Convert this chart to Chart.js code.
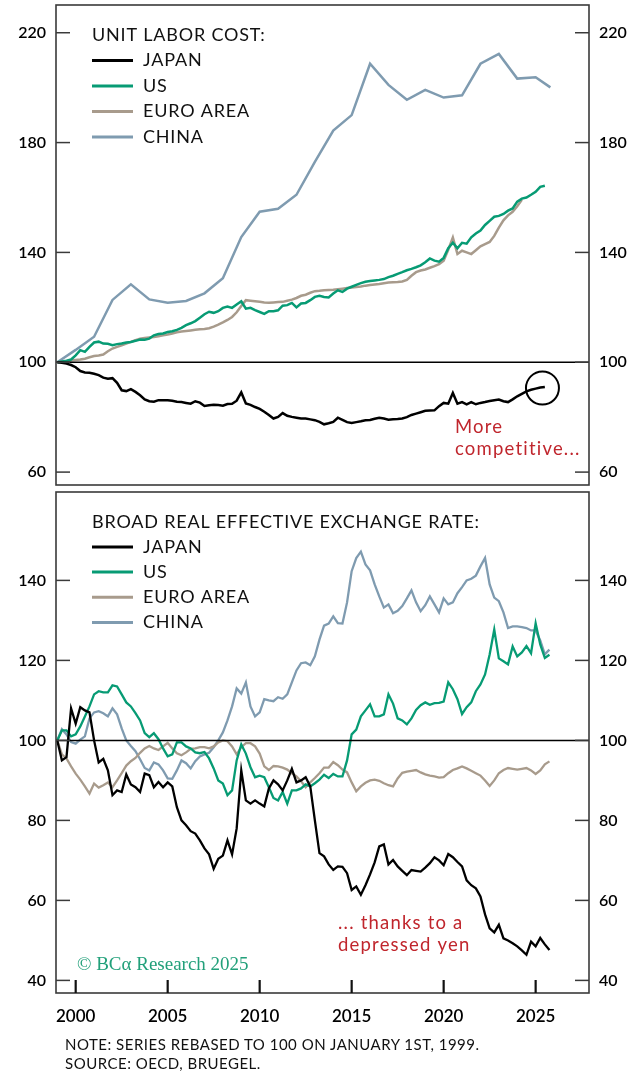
<!DOCTYPE html>
<html>
<head>
<meta charset="utf-8">
<script src="https://cdn.jsdelivr.net/npm/chart.js@4.4.1/dist/chart.umd.min.js"></script>
<style>
  body { margin: 0; background: #fff; width: 644px; height: 1072px; position: relative; overflow: hidden; font-family: Lato, "Open Sans", sans-serif; }
  canvas { position: absolute; left: 0; }
  #ulcChart { top: 0; }
  #reerChart { top: 488px; }
  .foot { position: absolute; left: 65px; font-size: 15px; line-height: 18px; color: #111; letter-spacing: 0.5px; }
</style>
</head>
<body>
<canvas id="ulcChart" width="644" height="490"></canvas>
<canvas id="reerChart" width="644" height="540"></canvas>
<div class="foot" style="top:1035px">NOTE: SERIES REBASED TO 100 ON JANUARY 1ST, 1999.</div>
<div class="foot" style="top:1054px">SOURCE: OECD, BRUEGEL.</div>
<script>
// quarterly, starting Q1 1999
const ulcJapan = [
  100, 99.8, 99.5, 99,
  98.2, 96.8, 96.3, 96.2,
  95.8, 95.3, 94.4, 94,
  94.2, 92.5, 89.8, 89.5,
  90.2, 89.2, 88, 86.5,
  85.8, 85.6, 86.2, 86.2,
  86.2, 86, 85.6, 85.5,
  85.2, 84.9, 85.8, 85.3,
  84.1, 84.3, 84.5, 84.4,
  84.2, 84.8, 84.9, 86,
  89, 85, 84.5, 83.7,
  83, 82, 80.8, 79.5,
  80.1, 81.5, 80.5, 80.1,
  79.8, 79.5, 79.5, 79.2,
  78.9, 78.3, 77.4, 77.8,
  78.3, 79.8, 79, 78.2,
  77.9, 78.2, 78.5, 78.9,
  79, 79.4, 79.8, 79.5,
  79.1, 79.2, 79.3, 79.5,
  80, 80.8, 81.3, 81.8,
  82.3, 82.4, 82.5, 84,
  85.2, 84.9, 88.8, 84.9,
  85.5, 84.7, 85.5, 84.7,
  85.2, 85.5, 85.9, 86.2,
  86.4, 85.8, 85.5, 86.5,
  87.6, 88.5, 89.4, 90,
  90.4, 90.8, 91
];
const ulcUS = [
  100, 100.3, 100.6, 101,
  102.5, 104.4, 103.8, 105.6,
  107.2, 107.5, 106.8, 106.7,
  106.2, 106.6, 106.8, 107.2,
  107.4, 107.8, 108.3, 108.2,
  108.6, 109.8, 110.3, 110.5,
  111, 111.3, 111.8, 112.5,
  113.5, 114.2, 115, 116.2,
  117.5, 118.4, 118, 118.6,
  119.8, 120.3, 119.8, 121,
  122.2, 119.5, 119.8, 119,
  118.3, 117.6, 118.6, 118.6,
  118.9, 120.6, 120.8, 121.6,
  120, 121.4, 121.6, 122.6,
  123.8, 124.2, 123.8, 123.6,
  125, 126.2, 125.6, 126.8,
  127.5, 128.2, 128.8, 129.3,
  129.6, 129.8, 130, 130.3,
  131, 131.5, 132.2, 132.8,
  133.5, 134, 134.6, 135.3,
  136.4, 137.8, 137, 136.6,
  138, 141.5, 143.5, 141.5,
  143.5, 143.2, 145.5, 146.9,
  148, 150, 151.5, 153,
  153.3, 154, 155.2, 156,
  158.5, 159.6, 160, 161,
  162.1, 163.9, 164.3
];
const ulcEuro = [
  100, 100.2, 100.3, 100.6,
  100.8, 101, 101.3, 101.8,
  102.3, 102.5, 102.8, 104,
  105, 105.6, 106.2, 106.8,
  107.4, 108, 108.6, 108.8,
  109, 109.2, 109.5, 109.8,
  110.1, 110.5, 110.9, 111.2,
  111.4, 111.6, 111.8, 112,
  112.1, 112.4, 113, 113.7,
  114.5, 115.4, 116.5, 118.2,
  120.5, 122.6, 122.4, 122.2,
  122, 121.8, 121.7, 121.8,
  121.9, 122, 122.4, 122.8,
  123.4, 124.2, 124.6, 125.3,
  125.9, 126, 126.2, 126.3,
  126.4, 126.6, 126.8, 127,
  127.2, 127.4, 127.6, 127.9,
  128.1, 128.3, 128.5, 128.8,
  129, 129.1, 129.2, 129.4,
  130, 131.5, 132.8, 133.4,
  133.8, 134.4, 135, 135.7,
  137, 141, 145.4, 139.4,
  140.6, 140, 139.4, 140.8,
  142.2, 143, 143.8, 146,
  149, 151.7, 153.5, 154.8,
  156.8, 159.2
];
// annual
const ulcChinaYears = [1999, 2000, 2001, 2002, 2003, 2004, 2005, 2006, 2007, 2008, 2009, 2010, 2011, 2012,
  2013, 2014, 2015, 2016, 2017, 2018, 2019, 2020, 2021, 2022, 2023, 2024, 2025, 2025.8];
const ulcChina = [100, 104.5, 109.3, 122.7, 128.4, 122.9, 121.7, 122.3, 125.1, 130.6, 145.6, 154.8, 155.9, 161,
  173, 184.4, 190, 208.7, 201, 195.6, 199.2, 196.4, 197.2, 208.7, 212.3, 203.3, 203.8, 200.1];

// REER, quarterly from Q1 1999
const reerJapan = [
  100, 95, 95.8, 108,
  104.2, 108.3, 107.5, 107,
  100, 94.5, 95.4, 92.5,
  86.3, 87.5, 87.1, 91.5,
  89, 88.3, 87.1, 91.7,
  91.3, 88.3, 89.6, 88.3,
  89.5, 88.5, 83.3, 80,
  78.8, 77.3, 76.7, 75,
  73, 71.5, 67.9, 70.4,
  71.2, 75, 71.5, 78,
  92.5, 85, 84.2, 85,
  84.2, 83.5, 88, 90,
  89, 87.5, 90, 92.9,
  89.5, 90, 90.8, 88.5,
  80, 71.8, 71, 69,
  67.6, 68.5, 68.4, 66.8,
  62.6, 63.5, 61.4, 63.8,
  66.5, 69.5, 73.5, 74,
  69, 70.1, 68.5, 67.4,
  66.3, 67.6, 67.4, 67.2,
  68.2, 69.3, 70.8, 70,
  68.8, 71.6, 70.8, 69.6,
  68.5, 65, 63.8, 63,
  61, 56.5, 53, 52,
  53.9, 50.5, 50, 49.3,
  48.5, 47.5, 46.4, 49.7,
  48.5, 50.6, 49, 47.6
];
const reerUS = [
  100, 102.5, 102.5, 101,
  101.5, 103.5, 106, 108.5,
  111.5, 112.3, 112, 112,
  113.75, 113.5, 111.5, 109.5,
  108.5, 106.8, 105, 101.8,
  100.8, 101.8, 100.3, 98,
  96, 96.5, 99.5, 99.5,
  98.5, 98, 97, 96.8,
  97.1, 95.5, 93, 90,
  89.2, 86.3, 87.5, 95,
  99, 96.7, 93.3, 90.8,
  91.2, 90.8, 88.3, 85.6,
  85, 87.1, 84.2, 87.5,
  87.5, 88, 89, 88.5,
  89.3, 90.2, 91.4, 90.6,
  91.6, 91, 91, 95,
  101.5, 102.7, 106, 107.5,
  109, 106, 106, 106.5,
  111.5, 109.2, 105.5, 105,
  104, 105.5, 107.6, 108.8,
  109.5, 108.9, 109.3, 109.4,
  109.7, 114.5, 112.8, 110.3,
  106.6, 108.3, 109.5, 112.3,
  114, 116.5, 121.5, 127.7,
  120.5, 119.8, 119, 123.5,
  121, 122, 123.6, 121.8,
  129.3, 124, 120.6, 121.4
];
const reerEuro = [
  100, 96.5, 95.5, 93.5,
  91.7, 90.2, 88.5, 86.7,
  89.2, 88.2, 88.8, 89.5,
  88.3, 90, 91.8, 93.7,
  94.8, 95.6, 96.9, 98,
  98.6, 98, 97.6, 98.5,
  99.4, 98, 96.8, 96.3,
  97, 97.9, 98, 98.3,
  98.3, 98, 98.5, 99.5,
  100, 99.8, 98.5, 96.5,
  98.3, 99.3, 99.3, 98.5,
  96.7, 93.5, 92.6, 93.6,
  93.5, 93.2, 92.7, 91.8,
  91, 89.8, 88.3, 89.5,
  90.6, 91.8, 93.2, 93.2,
  94.6, 93.8, 92.7, 92,
  89.5, 87.3, 88.5, 89.4,
  90, 90.2, 89.9, 89.3,
  88.8, 88.5, 90.5, 91.9,
  92.2, 92.4, 92.6, 92,
  91.5, 91.2, 91, 90.7,
  90.8, 91.8, 92.6, 93,
  93.5, 93, 92.4, 91.8,
  91.2, 90, 88.6, 90,
  91.8, 92.6, 93.1, 92.9,
  92.7, 92.9, 93.1, 92.5,
  91.6, 92.5, 94, 94.75
];
const reerChina = [
  100, 102.8, 101.5, 99.6,
  99.2, 100.2, 101, 105.5,
  107, 107.3, 106.8, 106,
  108, 106.5, 103, 100,
  98.6, 97.3, 95.3, 93.1,
  92.5, 94.5, 94, 92.5,
  90.5, 90.4, 92.5, 95,
  94.3, 93, 94.8, 96,
  96.5, 96.9, 98.3, 100,
  102, 105, 108.5, 113,
  111.7, 114.5, 108.5, 106,
  107, 110.3, 110, 109.8,
  110.8, 110.4, 111.5, 114.5,
  117.5, 119.3, 119.5, 118.8,
  121, 125.2, 128.7, 129.2,
  131, 129.3, 129.2, 134.5,
  142.3, 145.6, 147.2, 144,
  142.5, 139, 136, 133.2,
  134, 131.8, 132.4, 133.6,
  135.5, 137.5, 134.5, 132.3,
  133.8, 136, 134, 132,
  135.5, 134, 134.5, 136.8,
  138.3, 140, 140.4, 141.2,
  143.5, 145.6, 139, 135.7,
  134.8, 132, 128.1, 128.5,
  128.5, 128.3, 128.1, 127.5,
  127.5, 125, 121.5, 122.7
];

const ulcTicks = [60, 100, 140, 180, 220];
const reerTicks = [40, 60, 80, 100, 120, 140];
const yearTicks = [2000, 2005, 2010, 2015, 2020, 2025];

const JAPAN = "#000000";
const US = "#079b74";
const EURO = "#a89b8c";
const CHINA = "#7f9bb0";

function quarterly(values) {
  return values.map((v, i) => ({ x: 1999 + i / 4, y: v }));
}

function line(ctx, x1, y1, x2, y2) {
  ctx.beginPath();
  ctx.moveTo(x1, y1);
  ctx.lineTo(x2, y2);
  ctx.stroke();
}

// frame, inside ticks, 100 line, legend and notes
const panelDecor = {
  id: "panelDecor",
  afterDatasetsDraw(chart, args, opts) {
    const { ctx, chartArea: a, scales } = chart;
    const y = scales.y;
    ctx.save();

    ctx.strokeStyle = "#000";
    ctx.lineWidth = 1.5;
    const y100 = y.getPixelForValue(100);
    line(ctx, a.left, y100, a.right, y100);

    ctx.strokeStyle = "#3a3a3a";
    ctx.lineWidth = 1.6;
    ctx.strokeRect(a.left, a.top, a.right - a.left, a.bottom - a.top);

    ctx.lineWidth = 1.5;
    opts.yTicks.forEach((v) => {
      const py = y.getPixelForValue(v);
      line(ctx, a.left, py, a.left + 14, py);
      line(ctx, a.right - 14, py, a.right, py);
    });
    if (opts.xTicks) {
      ctx.strokeStyle = "#111";
      ctx.lineWidth = 2.2;
      opts.xTicks.forEach((v) => {
        const px = scales.x.getPixelForValue(v);
        line(ctx, px, a.bottom, px, a.bottom - 13);
      });
    }

    // legend
    ctx.font = "18px Lato";
    ctx.fillStyle = "#111";
    ctx.textBaseline = "middle";
    ctx.textAlign = "left";
    ctx.letterSpacing = "0.8px";
    ctx.fillText(opts.title, 92, opts.legendY);
    chart.data.datasets.forEach((ds, i) => {
      const ly = opts.legendY + opts.legendGap * (i + 1);
      ctx.strokeStyle = ds.borderColor;
      ctx.lineWidth = 3;
      line(ctx, 92, ly, 133, ly);
      ctx.fillText(ds.label, 143, ly);
    });

    // red note
    ctx.font = "18.5px Lato";
    ctx.letterSpacing = "1.2px";
    ctx.fillStyle = "#c0262d";
    ctx.textBaseline = "alphabetic";
    opts.note.lines.forEach((t, i) => {
      ctx.fillText(t, opts.note.x, opts.note.y + i * 22);
    });

    if (opts.circle) {
      ctx.strokeStyle = "#000";
      ctx.lineWidth = 2;
      ctx.beginPath();
      ctx.arc(scales.x.getPixelForValue(opts.circle.x), y.getPixelForValue(opts.circle.y), 16.5, 0, Math.PI * 2);
      ctx.stroke();
    }

    if (opts.mark) {
      ctx.font = "19px 'Liberation Serif'";
      ctx.letterSpacing = "0px";
      ctx.fillStyle = "#22a07a";
      ctx.fillText(opts.mark, 77, opts.markY);
    }
    ctx.restore();
  }
};

const tickFont = { family: "Lato", size: 16, weight: "600" };
const yearFont = { family: "Lato", size: 17, weight: "600" };

function yAxis(pos, min, max, ticks, width) {
  return {
    position: pos,
    min: min,
    max: max,
    grid: { display: false, drawTicks: false },
    border: { display: false },
    ticks: { padding: 10, color: "#000", font: tickFont },
    afterBuildTicks: (s) => { s.ticks = ticks.map((v) => ({ value: v })); },
    afterFit: (s) => { s.width = width; s.paddingTop = 0; s.paddingBottom = 0; }
  };
}

const ulcChart = new Chart(document.getElementById("ulcChart").getContext("2d"), {
  type: "line",
  data: {
    datasets: [
      { label: "JAPAN", data: quarterly(ulcJapan), borderColor: JAPAN },
      { label: "US", data: quarterly(ulcUS), borderColor: US },
      { label: "EURO AREA", data: quarterly(ulcEuro), borderColor: EURO },
      { label: "CHINA", data: ulcChinaYears.map((yr, i) => ({ x: yr, y: ulcChina[i] })), borderColor: CHINA }
    ]
  },
  options: {
    responsive: false,
    animation: false,
    layout: { padding: { top: 5, bottom: 5, left: 0, right: 0 } },
    elements: { point: { radius: 0 }, line: { borderWidth: 2.5, tension: 0 } },
    plugins: {
      legend: { display: false },
      tooltip: { enabled: false },
      panelDecor: {
        title: "UNIT LABOR COST:",
        legendY: 35,
        legendGap: 25.5,
        yTicks: ulcTicks,
        note: { x: 455, y: 433, lines: ["More", "competitive..."] },
        circle: { x: 2025.37, y: 90.6 }
      }
    },
    scales: {
      x: { type: "linear", min: 1998.93, max: 2027.9, display: false },
      y: yAxis("left", 55.3, 230.1, ulcTicks, 56),
      y2: yAxis("right", 55.3, 230.1, ulcTicks, 55)
    }
  },
  plugins: [panelDecor]
});

const reerChart = new Chart(document.getElementById("reerChart").getContext("2d"), {
  type: "line",
  data: {
    datasets: [
      { label: "JAPAN", data: quarterly(reerJapan), borderColor: JAPAN },
      { label: "US", data: quarterly(reerUS), borderColor: US },
      { label: "EURO AREA", data: quarterly(reerEuro), borderColor: EURO },
      { label: "CHINA", data: quarterly(reerChina), borderColor: CHINA }
    ]
  },
  options: {
    responsive: false,
    animation: false,
    layout: { padding: { top: 4, bottom: 0, left: 0, right: 0 } },
    elements: { point: { radius: 0 }, line: { borderWidth: 2.3, tension: 0 } },
    plugins: {
      legend: { display: false },
      tooltip: { enabled: false },
      panelDecor: {
        title: "BROAD REAL EFFECTIVE EXCHANGE RATE:",
        legendY: 33.7,
        legendGap: 25.2,
        yTicks: reerTicks,
        xTicks: yearTicks,
        note: { x: 338, y: 441, lines: ["... thanks to a", "depressed yen"] },
        mark: "© BCα Research 2025",
        markY: 482
      }
    },
    scales: {
      x: {
        type: "linear",
        min: 1998.93,
        max: 2027.9,
        grid: { display: false, drawTicks: false },
        border: { display: false },
        ticks: { padding: 13, color: "#000", font: yearFont, autoSkip: false, maxRotation: 0, callback: (v) => String(v) },
        afterBuildTicks: (s) => { s.ticks = yearTicks.map((v) => ({ value: v })); },
        afterFit: (s) => { s.height = 35; s.paddingLeft = 0; s.paddingRight = 0; }
      },
      y: yAxis("left", 36.85, 162.1, reerTicks, 56),
      y2: yAxis("right", 36.85, 162.1, reerTicks, 55)
    }
  },
  plugins: [panelDecor]
});
</script>
</body>
</html>
